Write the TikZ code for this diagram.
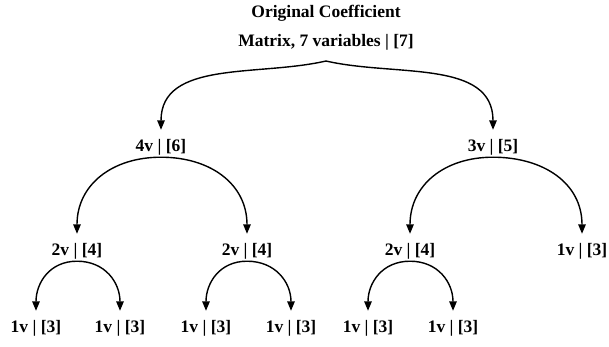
\documentclass[tikz,border=0pt]{standalone}
\usepackage{fontspec}
\setmainfont{Liberation Serif}
\usepackage{tikz}
\usetikzlibrary{arrows.meta}

\begin{document}
\begin{tikzpicture}[x=1pt,y=1pt]
		\useasboundingbox (0,0) rectangle (609,346);
		\begin{scope}[every node/.style={font=\bfseries\fontsize{17.5}{28.5}\selectfont, inner sep=0pt, text height=21pt, text depth=6pt, anchor=base}]
			\node[text height=, text depth=, align=center, inner ysep=11pt, anchor=south] (M) at (326,285) {Original Coefficient\\Matrix, 7 variables | [7]};
			\node (L) at (161,195) {4v | [6]};
			\node (R) at (493,195) {3v | [5]};
			\node (LL) at (77,91) {2v | [4]};
			\node (LR) at (247,91) {2v | [4]};
			\node (RL) at (410,91) {2v | [4]};
			\node (RR) at (582,91) {1v | [3]};
			\node (LLL) at (36,14) {1v | [3]};
			\node (LLR) at (120,14) {1v | [3]};
			\node (LRL) at (206,14) {1v | [3]};
			\node (LRR) at (291,14) {1v | [3]};
			\node (RLL) at (368,14) {1v | [3]};
			\node (RLR) at (453,14) {1v | [3]};
		\end{scope}
		
		\tikzstyle{arrow} = [line width=1.4pt,-{Triangle[length=9.5pt,width=7.5pt]},color=black]
		\draw [arrow] (M.south) to[out=193, in=90] (L.north);
		\draw [arrow] (M.south) to[out=-13, in=90] (R.north);
		
		\draw [arrow] (L.south) to[out=180, in=90, looseness=1.1] (LL.north);
		\draw [arrow] (L.south) to[out=0, in=90, looseness=1.1] (LR.north);
		\draw [arrow] (R.south) to[out=180, in=90, looseness=1.1] (RL.north);
		\draw [arrow] (R.south) to[out=0, in=90, looseness=1.1] (RR.north);
		
		\draw [arrow] (LL.south) to[out=180, in=90, looseness=1.1] (LLL.north);
		\draw [arrow] (LL.south) to[out=0, in=90, looseness=1.1] (LLR.north);
		\draw [arrow] (LR.south) to[out=180, in=90, looseness=1.1] (LRL.north);
		\draw [arrow] (LR.south) to[out=0, in=90, looseness=1.1] (LRR.north);
		\draw [arrow] (RL.south) to[out=180, in=90, looseness=1.1] (RLL.north);
		\draw [arrow] (RL.south) to[out=0, in=90, looseness=1.1] (RLR.north);
		
	\end{tikzpicture}
\end{document}
